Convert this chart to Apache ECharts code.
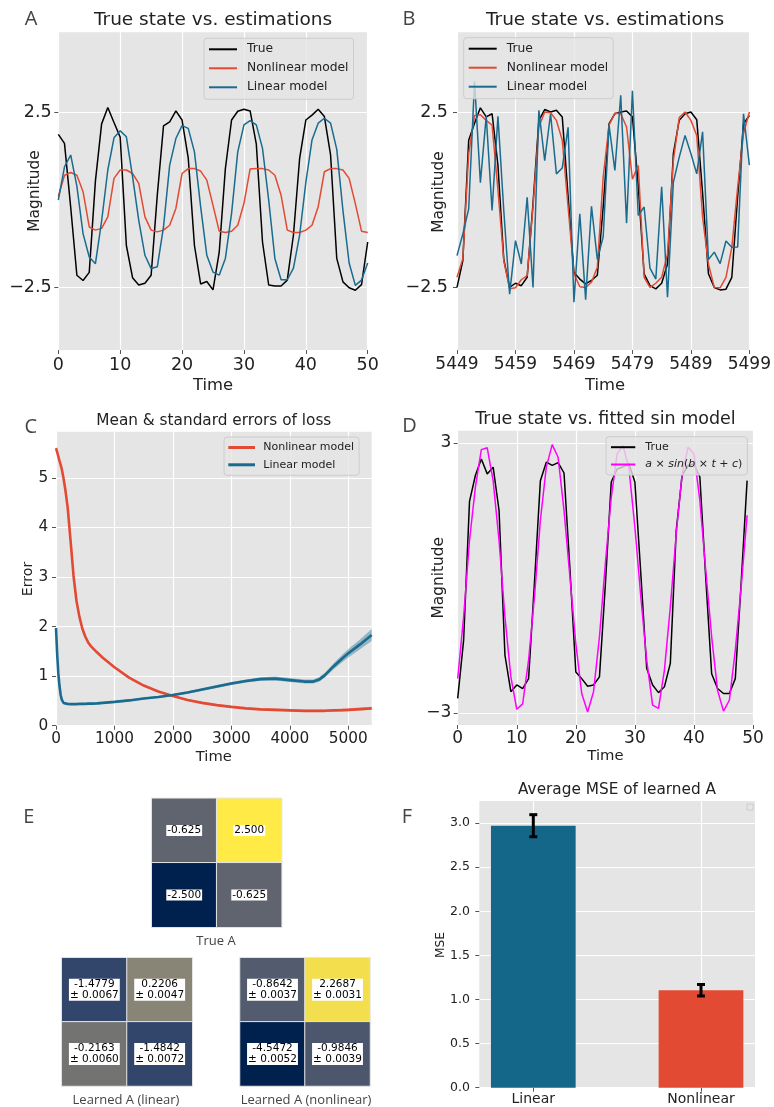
<!DOCTYPE html>
<html>
<head>
<meta charset="utf-8">
<script src="https://cdn.jsdelivr.net/npm/echarts@6.0.0/dist/echarts.min.js"></script>
<style>
html, body { margin: 0; background: #fff; }
#chart { width: 774px; height: 1107px; }
</style>
</head>
<body>
<div id="chart"></div>
<script>
// ---- A: first 51 steps ----
const trueA = [1.88, 1.62, -0.2, -2.15, -2.3, -2.07, 0.55, 2.18, 2.65, 2.22, 1.8,
  -1.3, -2.22, -2.43, -2.38, -2.15, 0.15, 2.12, 2.24, 2.55, 2.29,
  1.2, -1.3, -2.4, -2.33, -2.57, -1.5, 0.9, 2.29, 2.54, 2.6,
  2.55, 1.6, -1.2, -2.43, -2.46, -2.46, -2.29, -1.0, 1.19, 2.29,
  2.43, 2.6, 2.39, 1.29, -1.67, -2.34, -2.51, -2.58, -2.42, -1.2];
const nonlinA = [0.1, 0.71, 0.79, 0.71, 0.24, -0.77, -0.86, -0.81, -0.48, 0.62, 0.86,
  0.86, 0.76, 0.48, -0.48, -0.86, -0.91, -0.86, -0.72, -0.24, 0.76,
  0.9, 0.9, 0.83, 0.57, -0.15, -0.89, -0.93, -0.89, -0.72, -0.1,
  0.89, 0.9, 0.9, 0.86, 0.71, 0.14, -0.86, -0.93, -0.93, -0.86,
  -0.72, -0.19, 0.81, 0.9, 0.9, 0.86, 0.62, -0.1, -0.89, -0.93];
const linA = [0.0, 0.95, 1.29, 0.4, -0.96, -1.63, -1.82, -0.6, 0.86, 1.78, 1.98,
  1.81, 0.67, -0.58, -1.58, -1.96, -1.91, -0.77, 1.0, 1.76, 2.13,
  2.05, 1.38, -0.19, -1.58, -2.06, -2.15, -1.67, -0.38, 1.38, 2.15,
  2.27, 2.15, 1.48, 0.0, -1.67, -2.28, -2.28, -1.95, -1.0, 0.5,
  1.72, 2.2, 2.34, 2.2, 1.45, -0.3, -1.8, -2.44, -2.29, -1.8];

// ---- B: last 51 steps (5449..5499) ----
const startB = 5449;
const trueB = [-2.5, -1.73, 1.71, 2.2, 2.64, 2.38, 2.47, 1.0, -1.7, -2.5, -2.38,
  -2.45, -2.21, -0.1, 2.28, 2.59, 2.52, 2.57, 2.38, 0.1, -2.07,
  -2.26, -2.4, -2.3, -2.15, -0.2, 2.18, 2.47, 2.52, 2.55, 2.38,
  0.4, -2.11, -2.45, -2.54, -2.38, -1.83, 1.33, 2.28, 2.47, 2.52,
  2.3, 0.2, -2.11, -2.5, -2.57, -2.55, -2.21, 0.1, 2.18, 2.42];
const nonlinB = [-2.21, -1.68, 1.33, 2.42, 2.44, 2.28, 2.14, 0.3, -1.73, -2.54, -2.51,
  -2.28, -2.16, -0.2, 2.09, 2.52, 2.5, 2.28, 1.71, -0.2, -2.11,
  -2.48, -2.5, -2.35, -1.92, 0.66, 2.14, 2.49, 2.47, 2.09, 0.6,
  0.99, -2.21, -2.5, -2.38, -2.21, -1.54, 1.13, 2.36, 2.52, 2.28,
  1.85, -0.49, -1.83, -2.5, -2.51, -2.21, -1.35, 0.37, 1.9, 2.52];
const linB = [-1.59, -0.97, -0.25, 3.4, 0.5, 2.4, -0.3, 2.4, -0.3, -2.69, -1.16,
  -1.83, 0.08, -2.5, 2.57, 1.13, 2.47, 0.75, 0.92, 2.08, -2.92,
  -0.39, -2.85, -0.18, -1.7, -1.05, 2.14, 0.85, 3.0, -0.66, 3.13,
  -0.44, -0.2, -1.95, -2.26, 0.38, -2.78, 0.51, 1.22, 1.85, 1.33,
  0.75, 1.95, -1.7, -1.49, -1.82, -1.17, -1.35, -1.34, 2.47, 1.0];

// ---- C: loss curves ----
const lossX = [0, 20, 40, 60, 80, 100, 130, 160, 200, 250, 300, 350, 400, 450, 500,
  550, 600, 700, 800, 1000, 1250, 1500, 1750, 2000, 2250, 2500, 2750, 3000, 3250, 3500,
  3750, 4000, 4250, 4400, 4500, 4600, 4750, 4900, 5000, 5200, 5400];
const lossNonlin = [5.6, 5.52, 5.43, 5.34, 5.26, 5.17, 4.98, 4.76, 4.4, 3.72, 3.02, 2.52, 2.2, 1.96, 1.8,
  1.68, 1.6, 1.48, 1.37, 1.18, 0.97, 0.81, 0.69, 0.6, 0.52, 0.46, 0.415, 0.38, 0.35, 0.33,
  0.32, 0.31, 0.3, 0.3, 0.3, 0.3, 0.31, 0.315, 0.32, 0.335, 0.35];
const errNonlin = [0.03, 0.03, 0.03, 0.03, 0.03, 0.03, 0.03, 0.03, 0.03, 0.03, 0.025, 0.025, 0.02, 0.02, 0.02,
  0.02, 0.02, 0.02, 0.02, 0.02, 0.02, 0.02, 0.02, 0.02, 0.02, 0.02, 0.02, 0.02, 0.02, 0.02,
  0.025, 0.025, 0.025, 0.025, 0.025, 0.025, 0.025, 0.03, 0.03, 0.03, 0.03];
const lossLin = [1.97, 1.45, 1.05, 0.8, 0.62, 0.52, 0.46, 0.44, 0.44, 0.435, 0.435, 0.435, 0.44, 0.44, 0.44,
  0.445, 0.445, 0.45, 0.46, 0.48, 0.51, 0.55, 0.58, 0.62, 0.67, 0.73, 0.79, 0.85, 0.9, 0.94,
  0.95, 0.92, 0.89, 0.89, 0.93, 1.02, 1.2, 1.36, 1.46, 1.64, 1.83];
const errLin = [0.03, 0.03, 0.02, 0.02, 0.02, 0.02, 0.02, 0.02, 0.02, 0.02, 0.02, 0.02, 0.02, 0.02, 0.02,
  0.02, 0.02, 0.02, 0.02, 0.02, 0.02, 0.02, 0.02, 0.025, 0.025, 0.025, 0.03, 0.03, 0.03, 0.035,
  0.04, 0.04, 0.04, 0.04, 0.045, 0.05, 0.06, 0.075, 0.085, 0.1, 0.12];

// ---- D: true state vs fitted sine ----
const trueD = [-2.68, -1.39, 1.7, 2.28, 2.64, 2.31, 2.46, 1.5, -1.72, -2.53,
  -2.38, -2.46, -2.24, -0.1, 2.16, 2.57, 2.5, 2.56, 2.33, 0.2,
  -2.09, -2.24, -2.41, -2.38, -2.2, -0.15, 2.13, 2.42, 2.47, 2.53,
  2.13, 0.1, -2.01, -2.38, -2.55, -2.42, -1.9, 1.05, 2.28, 2.5,
  2.53, 2.24, 0.0, -2.13, -2.46, -2.57, -2.57, -2.24, -0.1, 2.16];
const fitD = [-2.24, -0.87, 0.83, 2.02, 2.85, 2.89, 2.16, 0.83, -0.87, -2.2,
  -2.92, -2.8, -1.83, -0.42, 1.28, 2.46, 2.96, 2.68, 1.5, 0.02,
  -1.46, -2.57, -2.98, -2.53, -1.31, 0.32, 1.79, 2.76, 2.94, 2.42,
  1.13, -0.42, -1.83, -2.83, -2.9, -2.05, -0.65, 0.98, 2.31, 2.9,
  2.76, 1.72, 0.17, -1.31, -2.5, -2.96, -2.72, -1.61, -0.2, 1.39];
const fitName = 'a × sin(b × t + c)';

// ---- E: matrices ----
const trueAMat = [[-0.625, 2.5], [-2.5, -0.625]];
const linAMat = [[-1.4779, 0.2206], [-0.2163, -1.4842]];
const linASd = [[0.0067, 0.0047], [0.0060, 0.0072]];
const nonlinAMat = [[-0.8642, 2.2687], [-4.5472, -0.9846]];
const nonlinASd = [[0.0037, 0.0031], [0.0052, 0.0039]];

// ---- F: MSE ----
const mseNames = ['Linear', 'Nonlinear'];
const mseVals = [2.97, 1.105];
const mseErr = [0.125, 0.065];

const FONT = 'DejaVu Sans';
const INK = '#222';
const RED = '#e24a33';
const BLUE = '#1a6b8e';
const BAR_BLUE = '#15678a';
const cividis = ['#00204d', '#31446b', '#666970', '#958f78', '#cbba69', '#ffea46'];

const pairs = (ys, x0) => ys.map((v, i) => [x0 + i, v]);
const minus = v => String(v).replace('-', '\u2212');

function plotGrid(l, t, w, h) {
  return { left: l, top: t, width: w, height: h, show: true, backgroundColor: '#e5e5e5', borderWidth: 0 };
}
function hiddenGrid(l, t, w, h) {
  return { left: l, top: t, width: w, height: h, show: false };
}
function valAxis(gi, min, max, ticks, fs, margin, fmt) {
  return {
    gridIndex: gi, type: 'value', min: min, max: max,
    axisLine: { show: false, onZero: false },
    axisTick: { show: true, length: 4, lineStyle: { color: '#555', width: 1 }, customValues: ticks },
    axisLabel: { customValues: ticks, fontSize: fs, color: INK, fontFamily: FONT, margin: margin, formatter: fmt || minus },
    splitLine: { show: true, lineStyle: { color: '#ffffff', width: 1.2 } }
  };
}
function lineSeries(gi, name, data, color, width) {
  return {
    type: 'line', name: name, xAxisIndex: gi, yAxisIndex: gi, data: data,
    showSymbol: false, symbol: 'none', lineStyle: { color: color, width: width || 1.5 },
    itemStyle: { color: color }, emphasis: { disabled: true }
  };
}
function bandSeries(gi, xs, mean, err, fill) {
  return {
    type: 'custom', xAxisIndex: gi, yAxisIndex: gi, silent: true, z: 1,
    data: xs.map((x, i) => [x, mean[i] - err[i], mean[i] + err[i]]),
    encode: { x: 0, y: [1, 2] },
    renderItem: (params, api) => {
      if (params.dataIndex !== 0) return { type: 'group', children: [] };
      const up = xs.map((x, i) => api.coord([x, mean[i] + err[i]]));
      const lo = xs.map((x, i) => api.coord([x, mean[i] - err[i]])).reverse();
      return { type: 'polygon', shape: { points: up.concat(lo) }, style: { fill: fill } };
    }
  };
}
function heatAxisX(gi) { return { gridIndex: gi, type: 'category', data: ['0', '1'], show: false }; }
function heatAxisY(gi) { return { gridIndex: gi, type: 'category', data: ['0', '1'], inverse: true, show: false }; }
function heatSeries(gi, mat, sd) {
  const data = [];
  mat.forEach((row, r) => row.forEach((v, c) => data.push([c, r, Math.max(-2.5, Math.min(2.5, v))])));
  return {
    type: 'heatmap', xAxisIndex: gi, yAxisIndex: gi, data: data,
    itemStyle: { borderColor: '#e6e6e6', borderWidth: 1 },
    emphasis: { disabled: true },
    label: {
      show: true, color: '#000', fontSize: 10.5, fontFamily: FONT, backgroundColor: '#fff',
      padding: [0, 1], lineHeight: 11,
      formatter: p => {
        const c = p.data[0], r = p.data[1];
        return sd ? mat[r][c].toFixed(4) + '\n± ' + sd[r][c].toFixed(4) : mat[r][c].toFixed(3);
      }
    }
  };
}
function legendBox(names, left, top, o) {
  return {
    data: names, orient: 'vertical', left: left, top: top, padding: o.padding,
    itemWidth: o.iw, itemHeight: o.ih, itemGap: o.gap, icon: 'rect', selectedMode: false,
    backgroundColor: 'rgba(229,229,229,0.8)', borderColor: '#cccccc', borderWidth: 1, borderRadius: 3,
    textStyle: {
      fontSize: o.fs, fontFamily: FONT, color: INK, lineHeight: o.lh, padding: [0, 0, 0, o.tpad],
      rich: { i: { fontStyle: 'italic', fontSize: o.fs, fontFamily: FONT, color: INK } }
    },
    formatter: o.formatter
  };
}
function txt(x, y, text, size, opt) {
  opt = opt || {};
  return {
    type: 'text', x: x, y: y, rotation: opt.rot || 0, silent: true,
    style: {
      text: text, fontSize: size, fontFamily: opt.family || FONT, fill: opt.color || INK,
      align: 'center', verticalAlign: 'middle'
    }
  };
}

const chart = echarts.init(document.getElementById('chart'));

const option = {
  animation: false,
  grid: [
    plotGrid(58.3, 32.3, 309.4, 317.7),   // A
    plotGrid(457, 32.3, 295.7, 317.7),    // B
    plotGrid(56, 431.7, 315.7, 294),      // C
    plotGrid(457.7, 430.7, 295.3, 294.3), // D
    plotGrid(479.3, 801, 275.7, 286.7),   // F
    hiddenGrid(151.7, 798.3, 130, 129),   // E true
    hiddenGrid(61.7, 957.7, 130.6, 128.3),// E linear
    hiddenGrid(240, 957.7, 130, 128.3)    // E nonlinear
  ],
  xAxis: [
    valAxis(0, 0, 50, [0, 10, 20, 30, 40, 50], 17.5, 6),
    valAxis(1, startB, startB + 50, [5449, 5459, 5469, 5479, 5489, 5499], 17, 6),
    valAxis(2, 0, 5400, [0, 1000, 2000, 3000, 4000, 5000], 15.3, 5.5),
    valAxis(3, 0, 50, [0, 10, 20, 30, 40, 50], 17, 4.6),
    valAxis(4, -0.322, 1.322, [0, 1], 14, 4.6, v => mseNames[Math.round(v)]),
    heatAxisX(5), heatAxisX(6), heatAxisX(7)
  ],
  yAxis: [
    valAxis(0, -4.29, 4.8, [-2.5, 2.5], 17.5, 6.6),
    valAxis(1, -4.29, 4.8, [-2.5, 2.5], 17.5, 9),
    valAxis(2, 0, 5.93, [0, 1, 2, 3, 4, 5], 15.3, 7.7),
    valAxis(3, -3.27, 3.27, [-3, 3], 17, 6.4),
    valAxis(4, 0, 3.25, [0, 0.5, 1, 1.5, 2, 2.5, 3], 12.5, 9.3, v => v.toFixed(1)),
    heatAxisY(5), heatAxisY(6), heatAxisY(7)
  ],
  visualMap: {
    type: 'continuous', show: false, min: -2.5, max: 2.5, dimension: 2,
    seriesIndex: [14, 15, 16], inRange: { color: cividis }
  },
  legend: [
    legendBox(['True', 'Nonlinear model', 'Linear model'], 204, 38.3,
      { padding: [4, 5, 5, 5], iw: 28, ih: 2, gap: 5, fs: 12.3, lh: 14, tpad: 5 }),
    legendBox(['True', 'Nonlinear model', 'Linear model'], 463.7, 37.7,
      { padding: [4, 5, 5, 5], iw: 28, ih: 2, gap: 5, fs: 12.3, lh: 14, tpad: 5 }),
    legendBox(['Nonlinear model', 'Linear model'], 224, 437,
      { padding: [4, 5, 4, 4.3], iw: 26.7, ih: 3, gap: 4.3, fs: 11, lh: 13, tpad: 3.3 }),
    legendBox(['True', fitName], 606, 436.7,
      { padding: [4, 5, 4, 5], iw: 24.3, ih: 2, gap: 4.3, fs: 11, lh: 13, tpad: 5,
        formatter: n => n === 'True' ? n : '{i|a} × {i|sin}({i|b} × {i|t} + {i|c})' })
  ],
  series: [
    // A
    lineSeries(0, 'True', pairs(trueA, 0), '#000'),
    lineSeries(0, 'Nonlinear model', pairs(nonlinA, 0), RED),
    lineSeries(0, 'Linear model', pairs(linA, 0), BLUE),
    // B
    lineSeries(1, 'True', pairs(trueB, startB), '#000'),
    lineSeries(1, 'Nonlinear model', pairs(nonlinB, startB), RED),
    lineSeries(1, 'Linear model', pairs(linB, startB), BLUE),
    // C
    bandSeries(2, lossX, lossNonlin, errNonlin, 'rgba(226,74,51,0.35)'),
    bandSeries(2, lossX, lossLin, errLin, 'rgba(26,107,142,0.4)'),
    lineSeries(2, 'Nonlinear model', lossX.map((x, i) => [x, lossNonlin[i]]), RED, 2.6),
    lineSeries(2, 'Linear model', lossX.map((x, i) => [x, lossLin[i]]), BLUE, 2.6),
    // D
    lineSeries(3, 'True', pairs(trueD, 0), '#000'),
    lineSeries(3, fitName, pairs(fitD, 0), '#ff00ff'),
    // F
    {
      type: 'bar', xAxisIndex: 4, yAxisIndex: 4, barWidth: 84.7,
      data: mseVals.map((v, i) => [i, v]),
      itemStyle: { color: p => [BAR_BLUE, RED][p.dataIndex] },
      emphasis: { disabled: true }
    },
    {
      type: 'custom', xAxisIndex: 4, yAxisIndex: 4, z: 5, silent: true,
      data: mseVals.map((v, i) => [i, v, mseErr[i]]),
      renderItem: (params, api) => {
        const x = api.value(0), y = api.value(1), e = api.value(2);
        const a = api.coord([x, y + e]), b = api.coord([x, y - e]);
        const st = { stroke: '#000', lineWidth: 3 };
        return {
          type: 'group', children: [
            { type: 'line', shape: { x1: a[0], y1: a[1], x2: b[0], y2: b[1] }, style: st },
            { type: 'line', shape: { x1: a[0] - 4, y1: a[1], x2: a[0] + 4, y2: a[1] }, style: st },
            { type: 'line', shape: { x1: b[0] - 4, y1: b[1], x2: b[0] + 4, y2: b[1] }, style: st }
          ]
        };
      }
    },
    // E
    heatSeries(5, trueAMat, null),
    heatSeries(6, linAMat, linASd),
    heatSeries(7, nonlinAMat, nonlinASd)
  ],
  graphic: [
    // panel letters
    txt(31, 19.7, 'A', 20, { family: 'Open Sans', color: '#444' }),
    txt(409, 19.7, 'B', 20, { family: 'Open Sans', color: '#444' }),
    txt(30.7, 427, 'C', 20, { family: 'Open Sans', color: '#444' }),
    txt(409.5, 426.5, 'D', 20, { family: 'Open Sans', color: '#444' }),
    txt(28.7, 817.5, 'E', 20, { family: 'Open Sans', color: '#444' }),
    txt(407, 817, 'F', 20, { family: 'Open Sans', color: '#444' }),
    // titles
    txt(213, 20, 'True state vs. estimations', 18.5),
    txt(605, 20, 'True state vs. estimations', 18.5),
    txt(213.8, 420.7, 'Mean & standard errors of loss', 15.3),
    txt(605.4, 419.5, 'True state vs. fitted sin model', 17.5),
    txt(617, 790.5, 'Average MSE of learned A', 15.3),
    // axis names
    txt(213, 385.7, 'Time', 16.4),
    txt(35, 191, 'Magnitude', 15.4, { rot: Math.PI / 2 }),
    txt(605, 386, 'Time', 16.4),
    txt(438.7, 192, 'Magnitude', 15.4, { rot: Math.PI / 2 }),
    txt(213.8, 756.7, 'Time', 14.7),
    txt(28.3, 579, 'Error', 14.1, { rot: Math.PI / 2 }),
    txt(605.4, 756, 'Time', 14.8),
    txt(439.3, 577.8, 'Magnitude', 15.4, { rot: Math.PI / 2 }),
    txt(440.7, 945, 'MSE', 12.2, { rot: Math.PI / 2 }),
    // heatmap captions
    txt(216, 941.7, 'True A', 13, { family: 'Open Sans', color: '#444' }),
    txt(126, 1100, 'Learned A (linear)', 13, { family: 'Open Sans', color: '#444' }),
    txt(306, 1100, 'Learned A (nonlinear)', 13, { family: 'Open Sans', color: '#444' }),
    // empty legend marker in F
    { type: 'rect', silent: true, shape: { x: 747, y: 804, width: 6, height: 6 },
      style: { fill: 'rgba(229,229,229,0.8)', stroke: '#cccccc', lineWidth: 1 } }
  ]
};

chart.setOption(option);
</script>
</body>
</html>
